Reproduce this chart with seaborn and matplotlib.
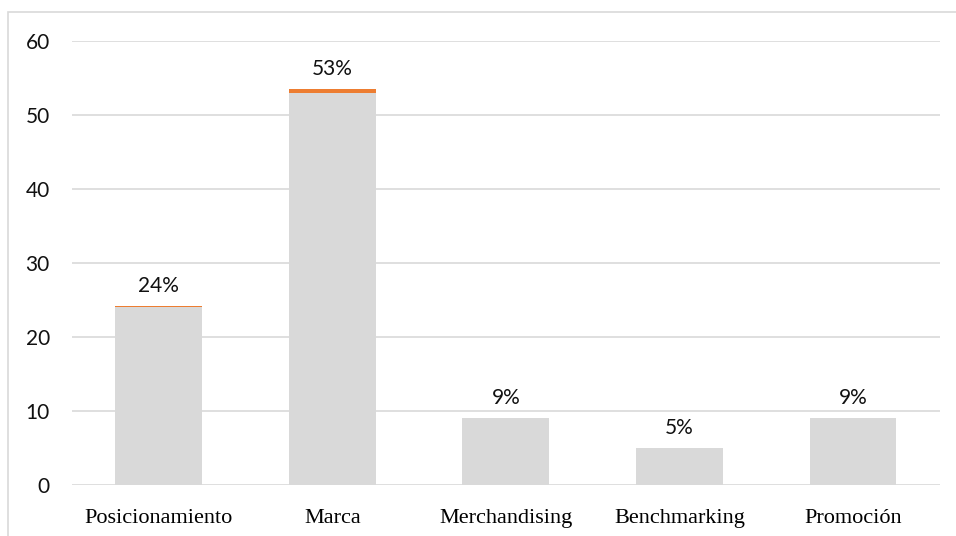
import numpy as np
import pandas as pd
import matplotlib.pyplot as plt
import seaborn as sns
from matplotlib.patches import Rectangle

# Chart data
categorias = ['Posicionamiento', 'Marca', 'Merchandising', 'Benchmarking', 'Promoción']
cantidades = [24, 53, 9, 5, 9]
porcentajes = [0.24, 0.53, 0.09, 0.05, 0.09]
etiquetas = ['24%', '53%', '9%', '5%', '9%']

df = pd.DataFrame({'Categoria': categorias, 'Cantidad': cantidades, 'Porcentaje': porcentajes})

sns.set_style('white')
plt.rcParams['font.family'] = ['Lato', 'DejaVu Sans']

fig = plt.figure(figsize=(9.56, 5.36), dpi=100)
ax = fig.add_axes([0.0753, 0.0951, 0.983 - 0.0753, 0.9235 - 0.0951])

# gray base bars
sns.barplot(data=df, x='Categoria', y='Cantidad', color='#D9D9D9', saturation=1,
            width=0.5, linewidth=0, ax=ax, zorder=2)
# thin orange segment stacked on top
pos = np.arange(len(categorias))
ax.bar(pos, df['Porcentaje'], bottom=df['Cantidad'], width=0.5, color='#ED7D31',
       linewidth=0, zorder=3)

for x, h, p, lab in zip(pos, cantidades, porcentajes, etiquetas):
    ax.annotate(lab, (x, h + p), xytext=(0, 7), textcoords='offset points',
                ha='center', va='bottom', fontsize=15, color='#111111')

ax.set_ylim(0, 60)
ax.set_xlim(-0.5, 4.5)
ax.set_yticks(range(0, 61, 10))
ax.yaxis.grid(True, color='#D9D9D9', linewidth=1.2, zorder=0)
ax.set_axisbelow(True)
for s in ax.spines.values():
    s.set_visible(False)
ax.set_xlabel('')
ax.set_ylabel('')
ax.tick_params(axis='y', length=0, pad=16, labelsize=15, labelcolor='#111111')
ax.tick_params(axis='x', length=0, pad=17)
for t in ax.get_xticklabels():
    t.set_fontfamily('Liberation Serif')
    t.set_fontsize(16)
    t.set_color('#000000')

# outer chart border
fig.patches.append(Rectangle((0.008, -0.05), 1.2, 0.978 + 0.05, transform=fig.transFigure,
                             fill=False, edgecolor='#D9D9D9', linewidth=1.2))

fig.savefig('out.png', dpi=100)
